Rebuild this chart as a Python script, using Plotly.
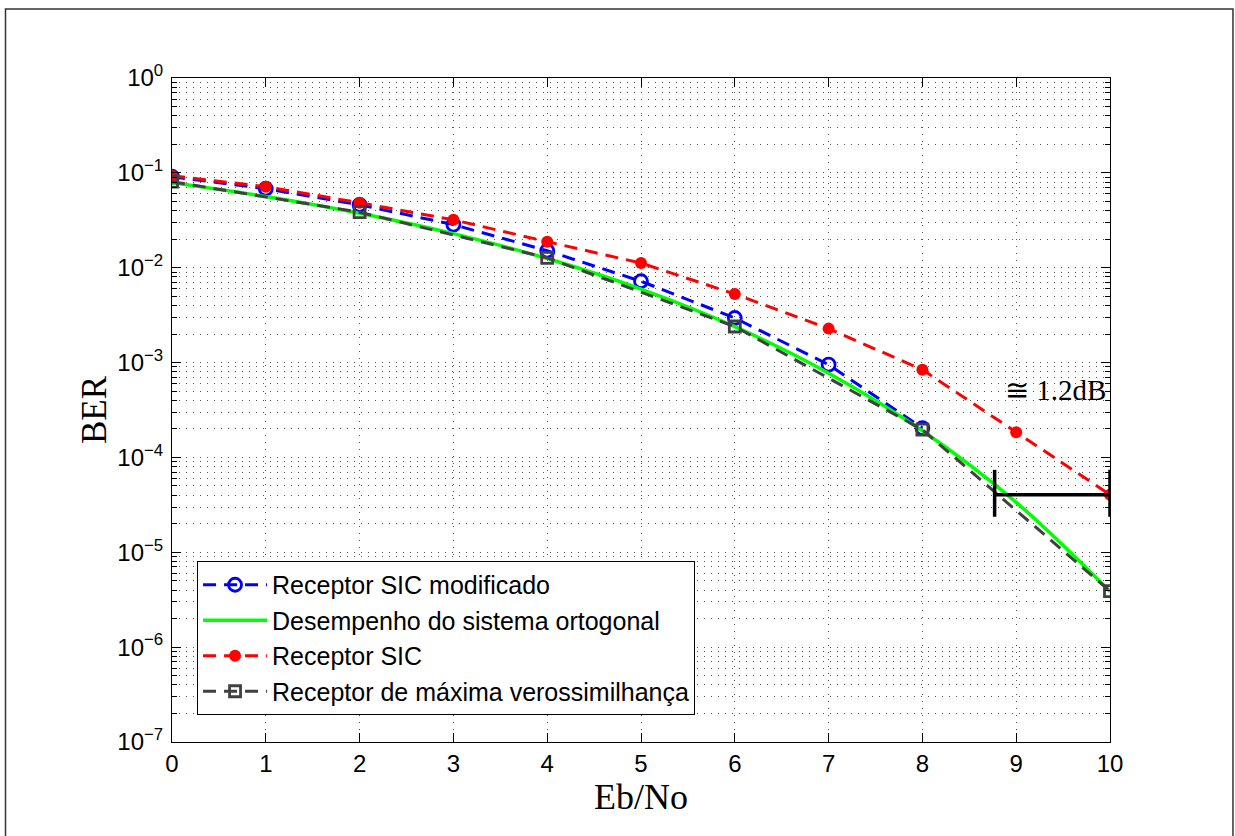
import math
import plotly.graph_objects as go

# ---------------- data ----------------
ebno = [0, 1, 2, 3, 4, 5, 6, 7, 8, 9, 10]
ebno_mod = [0, 1, 2, 3, 4, 5, 6, 7, 8]
ber_sic_mod = [0.091, 0.068, 0.046, 0.0285, 0.0151, 0.0072, 0.00295, 0.00095, 0.000204]
ber_orth = [0.0786, 0.0563, 0.0375, 0.0229, 0.0125, 0.00595, 0.00239, 0.000773, 0.000191, 3.36e-5, 3.87e-6]
ber_sic = [0.093, 0.0715, 0.0484, 0.032, 0.0188, 0.0112, 0.00528, 0.00228, 0.00084, 0.000184, 4.05e-5]
ebno_ml = [0, 2, 4, 6, 8, 10]
ber_ml = [0.0807, 0.0385, 0.0127, 0.0024, 0.000196, 3.9e-6]

names = ["Receptor SIC modificado", "Desempenho do sistema ortogonal",
         "Receptor SIC", "Receptor de máxima verossimilhança"]

# gain marker (≅1.2dB)
gap_x = [8.77, 10]
gap_y = 4.05e-5
gap_bar_y = [7.4e-5, 2.37e-5]
gap_text = "≅ 1.2dB"
gap_text_pos = (9.42, 5.15e-4)

ytick_vals = [1e-7, 1e-6, 1e-5, 1e-4, 1e-3, 1e-2, 1e-1, 1]
ytick_text = ["10<sup>−7</sup>", "10<sup>−6</sup>", "10<sup>−5</sup>", "10<sup>−4</sup>",
              "10<sup>−3</sup>", "10<sup>−2</sup>", "10<sup>−1</sup>", "10<sup>0</sup>"]
yminor_vals = [k * 10.0 ** e for e in range(-7, 0) for k in range(2, 10)]

BLUE = "#0000FF"
GREEN = "#00FF00"
RED = "#FF0000"
GRAY = "#404040"
DASH = "13px,8px"

fig = go.Figure()

# Receptor SIC modificado
fig.add_trace(go.Scatter(
    x=ebno_mod, y=ber_sic_mod, mode="lines+markers", name=names[0],
    line=dict(color=BLUE, width=3, dash=DASH),
    marker=dict(symbol="circle-open", size=13, color=BLUE, line=dict(width=2.8, color=BLUE))))
# Desempenho do sistema ortogonal
fig.add_trace(go.Scatter(
    x=ebno, y=ber_orth, mode="lines", name=names[1],
    line=dict(color=GREEN, width=3.5, shape="spline", smoothing=1.0)))
# Receptor SIC
fig.add_trace(go.Scatter(
    x=ebno, y=ber_sic, mode="lines+markers", name=names[2],
    line=dict(color=RED, width=3, dash=DASH),
    marker=dict(symbol="circle", size=12, color=RED)))
# Receptor de máxima verossimilhança
fig.add_trace(go.Scatter(
    x=ebno_ml, y=ber_ml, mode="lines+markers", name=names[3],
    line=dict(color=GRAY, width=3, dash=DASH),
    marker=dict(symbol="square-open", size=11, color=GRAY, line=dict(width=2.8, color=GRAY))))

# gain bar
fig.add_trace(go.Scatter(
    x=[gap_x[0], gap_x[1]], y=[gap_y, gap_y], mode="lines",
    line=dict(color="black", width=3.5), showlegend=False, hoverinfo="skip"))
fig.add_trace(go.Scatter(
    x=[gap_x[0], gap_x[0], None, gap_x[1], gap_x[1]],
    y=[gap_bar_y[0], gap_bar_y[1], None, gap_bar_y[0], gap_bar_y[1]], mode="lines",
    line=dict(color="black", width=3.5), showlegend=False, hoverinfo="skip",
    cliponaxis=False))

fig.add_annotation(x=gap_text_pos[0], y=math.log10(gap_text_pos[1]), text=gap_text,
                   showarrow=False, xref="x", yref="y",
                   font=dict(family="Liberation Serif", size=29, color="black"))

GRIDC = "#555555"
GRIDDASH = "1px,6px"
TICKFONT = dict(family="Liberation Sans, Arial", size=24, color="black")

fig.update_xaxes(
    range=[0, 10], dtick=1, tick0=0,
    ticks="inside", ticklen=9, tickwidth=1, tickcolor="black",
    showline=True, linecolor="black", linewidth=1, mirror="allticks",
    showgrid=True, gridcolor=GRIDC, gridwidth=1, griddash=GRIDDASH, zeroline=False,
    tickfont=TICKFONT,
    title=dict(text="Eb/No", font=dict(family="Liberation Serif", size=36, color="black"), standoff=4),
)
fig.update_yaxes(
    type="log", range=[-7, 0],
    tickmode="array", tickvals=ytick_vals, ticktext=ytick_text,
    ticks="inside", ticklen=9, tickwidth=1, tickcolor="black",
    showline=True, linecolor="black", linewidth=1, mirror="allticks",
    showgrid=True, gridcolor=GRIDC, gridwidth=1, griddash=GRIDDASH, zeroline=False,
    tickfont=TICKFONT, ticklabelstandoff=3,
    minor=dict(tickmode="array", tickvals=yminor_vals, ticks="inside", ticklen=5,
               tickcolor="black", showgrid=True, gridcolor=GRIDC, gridwidth=1, griddash=GRIDDASH),
    title=dict(text="BER", font=dict(family="Liberation Serif", size=35, color="black"), standoff=0),
)

# outer frame
fig.add_shape(type="rect", xref="paper", yref="paper",
              x0=-0.1775, x1=1.1311, y0=-0.17, y1=1.1039,
              line=dict(color="#333333", width=1.5), fillcolor="rgba(0,0,0,0)", layer="below")

fig.update_layout(
    width=1235, height=836,
    margin=dict(l=172, r=125, t=78, b=94),
    paper_bgcolor="white", plot_bgcolor="white",
    showlegend=True,
    legend=dict(x=0.0267, y=0.2726, xanchor="left", yanchor="top",
                bgcolor="white", bordercolor="black", borderwidth=1,
                font=dict(family="Liberation Sans, Arial", size=25, color="black"),
                itemwidth=64, tracegroupgap=0),
)

fig.write_html("out.html")
